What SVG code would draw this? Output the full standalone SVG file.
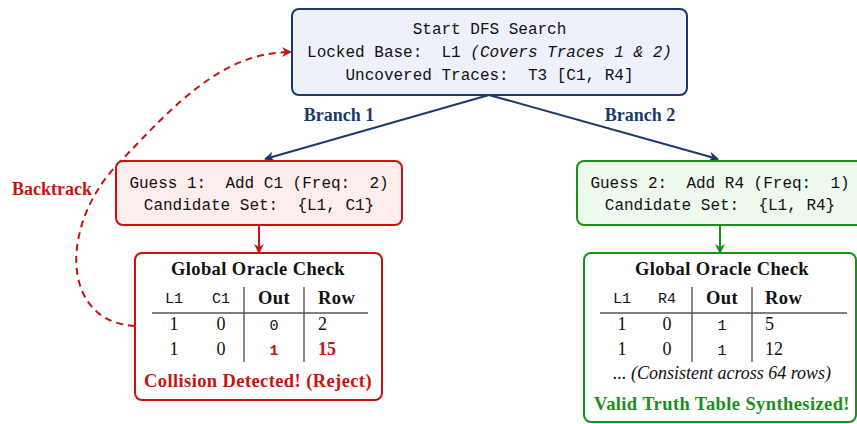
<svg xmlns="http://www.w3.org/2000/svg" width="857" height="424" viewBox="0 0 857 424">
<defs>
<style>
.mono{font-family:"Liberation Mono","DejaVu Sans Mono",monospace;font-size:16px;fill:#111;white-space:pre}
.tmono{font-family:"Liberation Mono","DejaVu Sans Mono",monospace;font-size:15px;fill:#111}
.serif{font-family:"Liberation Serif","DejaVu Serif",serif;font-size:18px;fill:#111}
.big{font-size:18.5px;letter-spacing:0.4px}
.b{font-weight:bold}
.it{font-style:italic}
.navy{fill:#1b3a6b}
.red{fill:#cc1111}
.green{fill:#1a8f1a}
.mid{text-anchor:middle}
.rule{stroke:#555;stroke-width:1.4;fill:none}
</style>
<marker id="ahNavy" viewBox="0 0 10 10" refX="9" refY="5" markerWidth="10" markerHeight="10" markerUnits="userSpaceOnUse" orient="auto">
<path d="M0,0 L10,5 L0,10 L3,5 z" fill="#1b3a6b"/>
</marker>
<marker id="ahRed" viewBox="0 0 10 10" refX="9" refY="5" markerWidth="10" markerHeight="10" markerUnits="userSpaceOnUse" orient="auto">
<path d="M0,0 L10,5 L0,10 L3,5 z" fill="#cc1111"/>
</marker>
<marker id="ahGreen" viewBox="0 0 10 10" refX="9" refY="5" markerWidth="10" markerHeight="10" markerUnits="userSpaceOnUse" orient="auto">
<path d="M0,0 L10,5 L0,10 L3,5 z" fill="#1a8f1a"/>
</marker>
</defs>
<rect width="857" height="424" fill="#ffffff"/>

<g id="connectors">
<line x1="489" y1="95" x2="265" y2="159" stroke="#1b3a6b" stroke-width="2" marker-end="url(#ahNavy)"/>
<line x1="489" y1="95" x2="718" y2="159" stroke="#1b3a6b" stroke-width="2" marker-end="url(#ahNavy)"/>
<rect x="302" y="106" width="75" height="19" fill="#ffffff"/>
<text x="339" y="121" class="serif b navy mid">Branch 1</text>
<rect x="603" y="106" width="75" height="19" fill="#ffffff"/>
<text x="640" y="121" class="serif b navy mid">Branch 2</text>
<line x1="259" y1="225" x2="259" y2="253" stroke="#cc1111" stroke-width="2" marker-end="url(#ahRed)"/>
<line x1="720" y1="225" x2="720" y2="253" stroke="#1a8f1a" stroke-width="2" marker-end="url(#ahGreen)"/>
<path d="M135,326 C60,322 60,225 117,165 S222,52 291,52" fill="none" stroke="#cc1111" stroke-width="2" stroke-dasharray="7,5" marker-end="url(#ahRed)"/>
<text x="52" y="195" class="serif b red mid">Backtrack</text>
</g>

<g id="start">
<rect x="292" y="9" width="395" height="86" rx="7" fill="#eef0fa" stroke="#1b3a6b" stroke-width="2"/>
<text x="489.5" y="34" class="mono mid" xml:space="preserve">Start DFS Search</text>
<text x="489.5" y="57" class="mono mid" xml:space="preserve">Locked Base:  L1 <tspan class="it">(Covers Traces 1 &amp; 2)</tspan></text>
<text x="489.5" y="80" class="mono mid" xml:space="preserve">Uncovered Traces:  T3 [C1, R4]</text>
</g>

<g id="guess1">
<rect x="116" y="161" width="286" height="64" rx="7" fill="#fdeeee" stroke="#cc1111" stroke-width="2"/>
<text x="259" y="188" class="mono mid" xml:space="preserve">Guess 1:  Add C1 (Freq:  2)</text>
<text x="259" y="210" class="mono mid" xml:space="preserve">Candidate Set:  {L1, C1}</text>
</g>

<g id="check1">
<rect x="135" y="253" width="247" height="147" rx="7" fill="#ffffff" stroke="#cc1111" stroke-width="2"/>
<text x="258" y="275" class="serif big b mid">Global Oracle Check</text>
<text x="174" y="303" class="tmono mid">L1</text>
<text x="221" y="303" class="tmono mid">C1</text>
<text x="274" y="304" class="serif big b mid">Out</text>
<text x="318" y="304" class="serif big b">Row</text>
<line x1="152" y1="313" x2="368" y2="313" class="rule"/>
<line x1="244" y1="287" x2="244" y2="362" class="rule"/>
<line x1="304" y1="287" x2="304" y2="362" class="rule"/>
<text x="174" y="330" class="serif mid">1</text>
<text x="221" y="330" class="serif mid">0</text>
<text x="274" y="330" class="tmono mid">0</text>
<text x="318" y="330" class="serif">2</text>
<text x="174" y="355" class="serif mid">1</text>
<text x="221" y="355" class="serif mid">0</text>
<text x="274" y="355" class="tmono mid b red">1</text>
<text x="318" y="355" class="serif b red">15</text>
<text x="258" y="387" class="serif big b red mid">Collision Detected! (Reject)</text>
</g>

<g id="guess2">
<rect x="577" y="161" width="286" height="64" rx="7" fill="#eefaee" stroke="#1a8f1a" stroke-width="2"/>
<text x="720" y="188" class="mono mid" xml:space="preserve">Guess 2:  Add R4 (Freq:  1)</text>
<text x="720" y="210" class="mono mid" xml:space="preserve">Candidate Set:  {L1, R4}</text>
</g>

<g id="check2">
<rect x="584" y="253" width="272" height="169" rx="7" fill="#ffffff" stroke="#1a8f1a" stroke-width="2"/>
<text x="722" y="275" class="serif big b mid">Global Oracle Check</text>
<text x="622" y="303" class="tmono mid">L1</text>
<text x="667" y="303" class="tmono mid">R4</text>
<text x="722" y="304" class="serif big b mid">Out</text>
<text x="765" y="304" class="serif big b">Row</text>
<line x1="600" y1="313" x2="847" y2="313" class="rule"/>
<line x1="692" y1="287" x2="692" y2="362" class="rule"/>
<line x1="752" y1="287" x2="752" y2="362" class="rule"/>
<text x="622" y="330" class="serif mid">1</text>
<text x="667" y="330" class="serif mid">0</text>
<text x="722" y="330" class="tmono mid">1</text>
<text x="765" y="330" class="serif">5</text>
<text x="622" y="355" class="serif mid">1</text>
<text x="667" y="355" class="serif mid">0</text>
<text x="722" y="355" class="tmono mid">1</text>
<text x="765" y="355" class="serif">12</text>
<text x="722" y="379" class="serif it mid">... (Consistent across 64 rows)</text>
<text x="722" y="410" class="serif big b green mid">Valid Truth Table Synthesized!</text>
</g>
</svg>
